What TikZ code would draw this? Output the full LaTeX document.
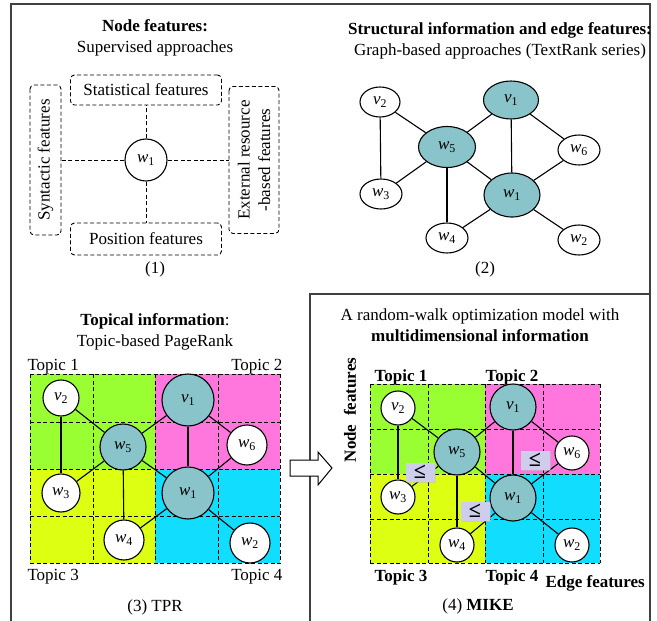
\documentclass[tikz,border=0pt]{standalone}
\usepackage{fontspec}
\setmainfont{Liberation Serif}
\usepackage{tikz}
\usetikzlibrary{positioning,shapes.geometric,shadows}
\definecolor{nodeteal}{RGB}{137,196,202}
\definecolor{topicgreen}{RGB}{153,255,51}
\definecolor{topicpink}{RGB}{255,119,221}
\definecolor{topicyellow}{RGB}{221,255,17}
\definecolor{topiccyan}{RGB}{17,221,255}
\definecolor{lebox}{RGB}{206,206,236}
\newcommand{\nl}[2]{\textit{#1}\textsubscript{#2}}

\begin{document}
\begin{tikzpicture}[
  x=1pt, y=-1pt,
  font=\fontsize{17}{20.5}\selectfont,
  frame/.style={line width=1.3pt, draw=black!75},
  featbox/.style={draw, dash pattern=on 4pt off 2.5pt, rounded corners=4pt, line width=0.9pt, inner sep=0pt, align=center},
  featline/.style={dash pattern=on 4pt off 2.5pt, line width=0.9pt},
  wnode/.style={circle, draw, line width=1.1pt, fill=white, inner sep=0pt},
  tnode/.style={wnode, fill=nodeteal},
  wellip/.style={ellipse, draw, line width=1.1pt, fill=white, inner sep=0pt, minimum width=42pt, minimum height=30pt},
  tellip/.style={wellip, fill=nodeteal},
  edge/.style={line width=1.1pt},
  gridline/.style={dash pattern=on 4pt off 2.5pt, line width=1pt},
  title/.style={align=center},
  boldlab/.style={font=\fontsize{17}{20}\selectfont\bfseries},
  lenode/.style={fill=lebox, minimum width=29pt, minimum height=19pt, inner sep=0pt, font=\fontsize{22}{22}\selectfont\bfseries, drop shadow={shadow xshift=1pt, shadow yshift=-1pt, fill=black!25}}
]
\useasboundingbox (0,0) rectangle (657,621);

% frames
\draw[frame] (11,625) -- (11,4) -- (650,4) -- (650,625);
\draw[frame] (310,625) -- (310,294) -- (650,294);

% (1) node features
\node[title] (t1) at (155,38) {\textbf{Node features:}\\Supervised approaches};
\node[wnode, minimum size=42pt] (a1) at (146,160) {\nl{w}{1}};
\node[featbox, minimum width=151pt, minimum height=30pt] (stat) at (146,90) {Statistical features};
\node[featbox, minimum width=151pt, minimum height=32pt] (pos) at (146,239) {Position features};
\node[featbox, rotate=90, minimum width=150pt, minimum height=31pt] (syn) at (45.5,160) {Syntactic features};
\node[featbox, rotate=90, minimum width=147pt, minimum height=50pt] (ext) at (254,160) {External resource\\-based features};
\draw[featline] (a1) -- (stat);
\draw[featline] (a1) -- (pos);
\draw[featline] (a1) -- (syn);
\draw[featline] (a1) -- (ext);
\node (c1) at (155,269) {(1)};

% (2) graph-based
\node[title] (t2) at (500,41) {\textbf{Structural information and edge features:}\\Graph-based approaches (TextRank series)};
\node[wellip, minimum width=40pt] (b-v2) at (380,102) {\nl{v}{2}};
\node[tellip, minimum width=55pt, minimum height=38pt] (b-v1) at (511,100) {\nl{v}{1}};
\node[tellip, minimum width=57pt, minimum height=41pt] (b-w5) at (447,147) {\nl{w}{5}};
\node[wellip] (b-w6) at (579,150) {\nl{w}{6}};
\node[wellip] (b-w3) at (381,194) {\nl{w}{3}};
\node[tellip, minimum width=56pt, minimum height=44pt] (b-w1) at (512,195) {\nl{w}{1}};
\node[wellip] (b-w4) at (447,238) {\nl{w}{4}};
\node[wellip] (b-w2) at (579,240) {\nl{w}{2}};
\foreach \s/\t in {v2/w5, v2/w3, w5/v1, w5/w3, w5/w4, w5/w1, v1/w1, v1/w6, w6/w1, w1/w4, w1/w2}
  \draw[edge] (b-\s) -- (b-\t);
\node (c2) at (485,269) {(2)};

% (3) topic-based pagerank
\node[title] (t3) at (155,332) {\textbf{Topical information}:\\Topic-based PageRank};
\fill[topicgreen] (30,374) rectangle (155,469);
\fill[topicpink] (155,374) rectangle (280,469);
\fill[topicyellow] (30,469) rectangle (155,563);
\fill[topiccyan] (155,469) rectangle (280,563);
\foreach \x in {30,93,155,218,280}
  \draw[gridline] (\x,374) -- (\x,563);
\foreach \y in {374,422,469,516,563}
  \draw[gridline] (30,\y) -- (280,\y);
\node[anchor=west] (tp1) at (24,367) {Topic 1};
\node[anchor=east] (tp2) at (286,367) {Topic 2};
\node[anchor=west] (tp3) at (24,577) {Topic 3};
\node[anchor=east] (tp4) at (286,577) {Topic 4};
\node[wnode, minimum size=36pt] (c-v2) at (61,398) {\nl{v}{2}};
\node[tnode, minimum size=52pt] (c-v1) at (188,400) {\nl{v}{1}};
\node[tnode, minimum size=46pt] (c-w5) at (123,447) {\nl{w}{5}};
\node[wnode, minimum size=40pt] (c-w6) at (247,445) {\nl{w}{6}};
\node[wnode, minimum size=38pt] (c-w3) at (61,493) {\nl{w}{3}};
\node[tnode, minimum size=52pt] (c-w1) at (188,493) {\nl{w}{1}};
\node[wnode, minimum size=40pt] (c-w4) at (124,540) {\nl{w}{4}};
\node[wnode, minimum size=40pt] (c-w2) at (250,543) {\nl{w}{2}};
\foreach \s/\t in {v2/w5, v2/w3, w5/v1, w5/w3, w5/w4, w5/w1, v1/w1, v1/w6, w6/w1, w1/w4, w1/w2}
  \draw[edge] (c-\s) -- (c-\t);
\node (c3) at (155,607) {(3) TPR};

% arrow
\draw[line width=1pt, fill=white] (290,460) -- (318,460) -- (318,452) -- (332,468) -- (318,485) -- (318,476) -- (290,476) -- cycle;

% (4) MIKE
\node[title] (t4) at (480,325) {A random-walk optimization model with\\\textbf{multidimensional information}};
\fill[topicgreen] (370,384) rectangle (485,474);
\fill[topicpink] (485,384) rectangle (600,474);
\fill[topicyellow] (370,474) rectangle (485,563);
\fill[topiccyan] (485,474) rectangle (600,563);
\foreach \x in {370,428,485,543,600}
  \draw[gridline] (\x,384) -- (\x,563);
\foreach \y in {384,429,474,519,563}
  \draw[gridline] (370,\y) -- (600,\y);
\node[anchor=west, boldlab] (mp1) at (371,377) {Topic 1};
\node[anchor=west, boldlab] (mp2) at (482,377) {Topic 2};
\node[anchor=west, boldlab] (mp3) at (371,577) {Topic 3};
\node[anchor=west, boldlab] (mp4) at (482,577) {Topic 4};
\node[anchor=west, boldlab] (edgef) at (542,583) {Edge features};
\node[rotate=90, boldlab] (nodef) at (350,410) {Node\ \ features};
\node[wnode, minimum size=34pt] (d-v2) at (398,408) {\nl{v}{2}};
\node[tnode, minimum size=46pt] (d-v1) at (513,407) {\nl{v}{1}};
\node[tnode, minimum size=46pt] (d-w5) at (457,452) {\nl{w}{5}};
\node[wnode, minimum size=34pt] (d-w6) at (572,453) {\nl{w}{6}};
\node[wnode, minimum size=34pt] (d-w3) at (398,497) {\nl{w}{3}};
\node[tnode, minimum size=46pt] (d-w1) at (513,498) {\nl{w}{1}};
\node[wnode, minimum size=34pt] (d-w4) at (457,545) {\nl{w}{4}};
\node[wnode, minimum size=34pt] (d-w2) at (572,545) {\nl{w}{2}};
\foreach \s/\t in {v2/w5, v2/w3, w5/v1, w5/w3, w5/w4, w5/w1, v1/w1, v1/w6, w6/w1, w1/w4, w1/w2}
  \draw[edge] (d-\s) -- (d-\t);
\node[lenode] (le1) at (420,472) {≤};
\node[lenode] (le2) at (535,460) {≤};
\node[lenode] (le3) at (475,511) {≤};
\node (c4) at (478,606) {(4) \textbf{MIKE}};

\end{tikzpicture}
\end{document}
